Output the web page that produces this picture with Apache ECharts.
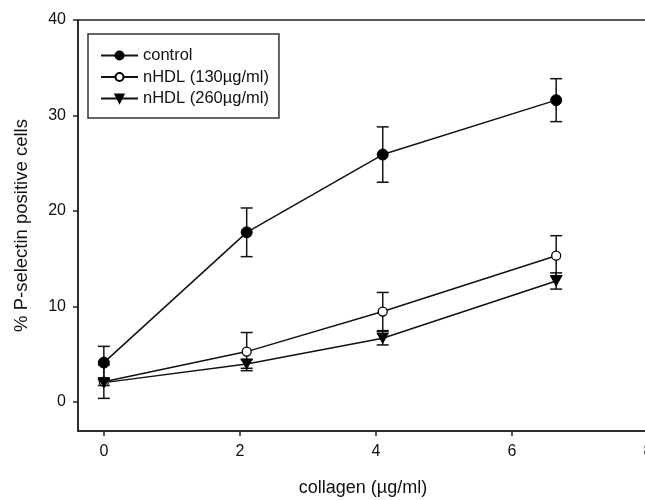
<!DOCTYPE html>
<html>
<head>
<meta charset="utf-8">
<script src="https://cdn.jsdelivr.net/npm/echarts@6/dist/echarts.min.js"></script>
<style>html,body{margin:0;padding:0;background:#fff;overflow:hidden;}#c{width:645px;height:500px;}</style>
</head>
<body>
<div id="c"></div>
<script>
var collagen = [0, 2.1, 4.1, 6.65];
var control = [4.1, 17.75, 25.9, 31.6];
var controlErr = [1.7, 2.55, 2.9, 2.25];
var hdl130 = [2.1, 5.25, 9.45, 15.3];
var hdl130Err = [1.75, 2.0, 2.0, 2.1];
var hdl260 = [2.0, 3.95, 6.65, 12.65];
var hdl260Err = [0.3, 0.45, 0.7, 0.85];
var xTicks = [0, 2, 4, 6, 8];
var yTicks = [0, 10, 20, 30, 40];

var FONT = "'Liberation Sans', Arial, sans-serif";
function pts(ys) { return collagen.map(function (x, i) { return [x, ys[i]]; }); }
function errData(ys, es) { return collagen.map(function (x, i) { return [x, ys[i] - es[i], ys[i] + es[i]]; }); }

function errSeries(ys, es) {
  return {
    type: 'custom',
    silent: true,
    z: 1,
    data: errData(ys, es),
    renderItem: function (params, api) {
      var lo = api.coord([api.value(0), api.value(1)]);
      var hi = api.coord([api.value(0), api.value(2)]);
      var w = 6;
      var st = { stroke: '#111', lineWidth: 1.5 };
      return {
        type: 'group',
        children: [
          { type: 'line', shape: { x1: lo[0], y1: lo[1], x2: hi[0], y2: hi[1] }, style: st },
          { type: 'line', shape: { x1: lo[0] - w, y1: lo[1], x2: lo[0] + w, y2: lo[1] }, style: st },
          { type: 'line', shape: { x1: hi[0] - w, y1: hi[1], x2: hi[0] + w, y2: hi[1] }, style: st }
        ]
      };
    }
  };
}

var tri = 'path://M0,0 L10,0 L5,9 Z';

var chart = echarts.init(document.getElementById('c'), null, { renderer: 'canvas' });
chart.setOption({
  animation: false,
  backgroundColor: '#fff',
  textStyle: { fontFamily: FONT },
  grid: { left: 78, top: 20, bottom: 69, width: 570, show: true, borderColor: '#222', borderWidth: 1.5, containLabel: false, outerBoundsMode: 'none' },
  legend: {
    orient: 'vertical',
    left: 88, top: 34,
    padding: [13, 10, 11, 12],
    itemGap: 4.5,
    itemWidth: 37, itemHeight: 10,
    borderColor: '#333', borderWidth: 1.5,
    textStyle: { fontFamily: FONT, fontSize: 16.5, color: '#111' },
    data: ['control', 'nHDL (130µg/ml)', 'nHDL (260µg/ml)']
  },
  xAxis: {
    type: 'value', min: -0.38, max: 8,
    name: 'collagen (µg/ml)', nameLocation: 'middle', nameGap: 48,
    nameTextStyle: { fontFamily: FONT, fontSize: 18, color: '#111' },
    axisLine: { show: true, onZero: false, lineStyle: { color: '#222', width: 1.5 } },
    axisTick: { show: true, length: 5, customValues: xTicks, lineStyle: { color: '#222', width: 1.5 } },
    axisLabel: { customValues: xTicks, margin: 13, fontFamily: FONT, fontSize: 16, color: '#111' },
    splitLine: { show: false }
  },
  yAxis: {
    type: 'value', min: -3.07, max: 40,
    name: '% P-selectin positive cells', nameLocation: 'middle', nameGap: 47,
    nameTextStyle: { fontFamily: FONT, fontSize: 18.5, color: '#111' },
    axisLine: { show: true, onZero: false, lineStyle: { color: '#222', width: 1.5 } },
    axisTick: { show: true, length: 5, customValues: yTicks, lineStyle: { color: '#222', width: 1.5 } },
    axisLabel: { customValues: yTicks, margin: 12, fontFamily: FONT, fontSize: 16, color: '#111' },
    splitLine: { show: false }
  },
  series: [
    errSeries(control, controlErr),
    errSeries(hdl130, hdl130Err),
    errSeries(hdl260, hdl260Err),
    {
      name: 'control', type: 'line', z: 3, data: pts(control),
      symbol: 'circle', symbolSize: 11,
      lineStyle: { color: '#111', width: 1.5 },
      itemStyle: { color: '#000', borderColor: '#000', borderWidth: 1 }
    },
    {
      name: 'nHDL (130µg/ml)', type: 'line', z: 3, data: pts(hdl130),
      symbol: 'circle', symbolSize: 9,
      lineStyle: { color: '#111', width: 1.5 },
      itemStyle: { color: '#fff', borderColor: '#000', borderWidth: 1.3 }
    },
    {
      name: 'nHDL (260µg/ml)', type: 'line', z: 3, data: pts(hdl260),
      symbol: tri, symbolSize: [11, 10],
      lineStyle: { color: '#111', width: 1.5 },
      itemStyle: { color: '#000', borderColor: '#000', borderWidth: 1 }
    }
  ]
});
</script>
</body>
</html>
